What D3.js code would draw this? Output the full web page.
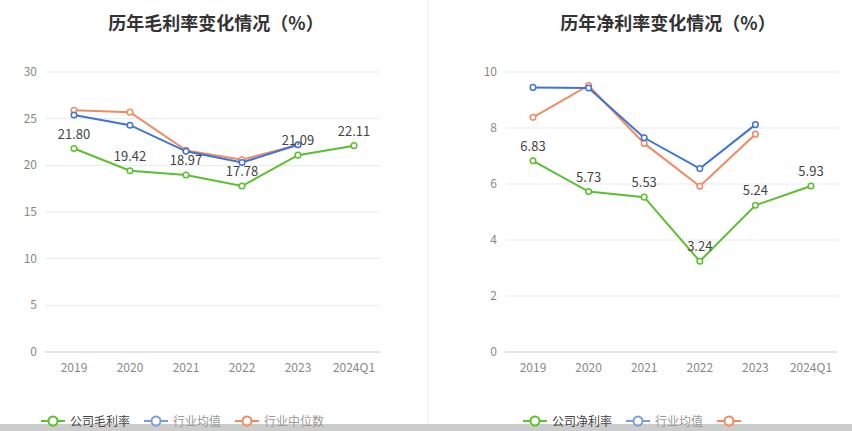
<!DOCTYPE html><html><head><meta charset="utf-8"><script src="https://cdn.jsdelivr.net/npm/d3@7"></script>
<style>body{margin:0;background:#fff;font-family:"Noto Sans CJK SC","Noto Sans",sans-serif}</style></head><body>
<svg id="c" width="852" height="431"></svg>
<script>
const years=["2019","2020","2021","2022","2023","2024Q1"];
const grossCompany=[21.80,19.42,18.97,17.78,21.09,22.11];
const grossAvg=[25.4,24.3,21.5,20.3,22.2];
const grossMedian=[25.9,25.7,21.6,20.6,22.2];
const netCompany=[6.83,5.73,5.53,3.24,5.24,5.93];
const netAvg=[9.45,9.43,7.65,6.55,8.12];
const netMedian=[8.38,9.52,7.45,5.92,7.78];
const grossTicks=[0,5,10,15,20,25,30];
const netTicks=[0,2,4,6,8,10];
const svg=d3.select("#c");
const C={g:"#5ac02e",b:"#3f74d6",o:"#f08a62"};
svg.append("line").attr("x1",428).attr("x2",428).attr("y1",0).attr("y2",431).attr("stroke","#eee");
svg.append("rect").attr("x",0).attr("y",424).attr("width",852).attr("height",7).attr("fill","#ccc");
function chart(o){
  const x=d3.scalePoint().domain(years).range([o.x0,o.x1]);
  const y=d3.scaleLinear().domain([0,o.max]).range([352,72]);
  const g=svg.append("g");
  g.append("text").attr("x",o.tx).attr("y",30).attr("text-anchor","middle").attr("font-size",18).attr("font-weight","bold").attr("fill","#333").text(o.title);
  o.ticks.forEach(t=>{
    g.append("line").attr("x1",o.gx0).attr("x2",o.gx1).attr("y1",y(t)).attr("y2",y(t)).attr("stroke",t==0?"#ccc":"#e6e9f2");
    g.append("text").attr("x",o.gx0-8).attr("y",y(t)+4).attr("text-anchor","end").attr("font-size",12).attr("fill","#888").text(t);
  });
  years.forEach(yr=>g.append("text").attr("x",x(yr)).attr("y",372).attr("text-anchor","middle").attr("font-size",12).attr("fill","#888").text(yr));
  const line=d3.line().x((d,i)=>x(years[i])).y(d=>y(d));
  [[o.med,C.o],[o.avg,C.b],[o.comp,C.g]].forEach(([d,c])=>{
    g.append("path").attr("d",line(d)).attr("fill","none").attr("stroke",c).attr("stroke-width",2);
    d.forEach((v,i)=>g.append("circle").attr("cx",x(years[i])).attr("cy",y(v)).attr("r",2.8).attr("fill","#fff").attr("stroke",c).attr("stroke-width",1.5));
  });
  o.comp.forEach((v,i)=>g.append("text").attr("x",x(years[i])).attr("y",y(v)-10).attr("text-anchor","middle").attr("font-size",13).attr("fill","#444").text(v.toFixed(2)));
  let lx=o.lx;
  o.legend.forEach(([t,c])=>{
    const lc=c==C.b?"#7a9de0":c;
    g.append("line").attr("x1",lx).attr("x2",lx+24).attr("y1",421).attr("y2",421).attr("stroke",lc).attr("stroke-width",2);
    g.append("circle").attr("cx",lx+12).attr("cy",421).attr("r",4.5).attr("fill","#fff").attr("stroke",lc).attr("stroke-width",2);
    if(t){g.append("text").attr("x",lx+29).attr("y",425.5).attr("font-size",12).attr("fill",c==C.g?"#444":"#999").text(t);}
    lx+=29+t.length*12+14;
  });
}
chart({x0:74,x1:354,gx0:45,gx1:380,max:30,ticks:grossTicks,title:"历年毛利率变化情况（%）",tx:216,comp:grossCompany,avg:grossAvg,med:grossMedian,lx:41,legend:[["公司毛利率",C.g],["行业均值",C.b],["行业中位数",C.o]]});
chart({x0:533,x1:811,gx0:505,gx1:838,max:10,ticks:netTicks,title:"历年净利率变化情况（%）",tx:668,comp:netCompany,avg:netAvg,med:netMedian,lx:523,legend:[["公司净利率",C.g],["行业均值",C.b],["",C.o]]});
</script></body></html>
